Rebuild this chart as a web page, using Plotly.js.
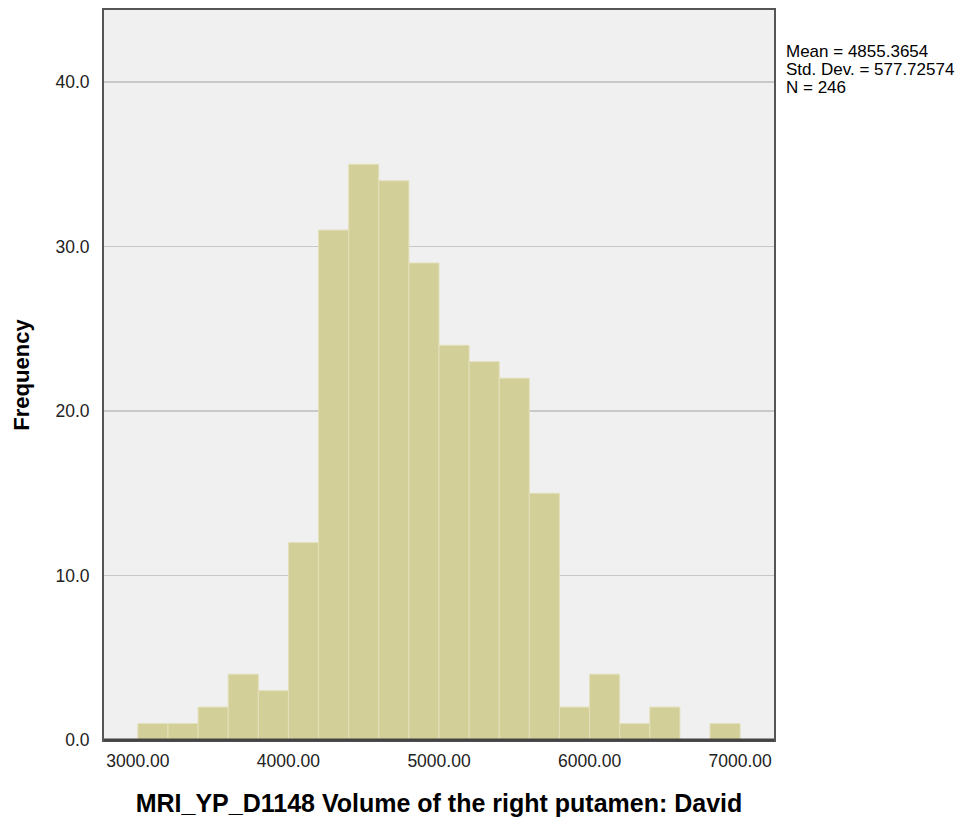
<!DOCTYPE html>
<html>
<head>
<meta charset="utf-8">
<script src="https://cdn.plot.ly/plotly-3.0.1.min.js"></script>
<style>html,body{margin:0;padding:0;background:#fff;}#chart{width:972px;height:827px;}</style>
</head>
<body>
<div id="chart"></div>
<script>
// Bin lower edges (bin width 200) and frequencies
const binLower = [3000, 3200, 3400, 3600, 3800, 4000, 4200, 4400, 4600, 4800,
                  5000, 5200, 5400, 5600, 5800, 6000, 6200, 6400, 6600, 6800];
const binWidth = 200;
const frequency = [1, 1, 2, 4, 3, 12, 31, 35, 34, 29,
                   24, 23, 22, 15, 2, 4, 1, 2, 0, 1];
const xTickVals = [3000, 4000, 5000, 6000, 7000];
const xTickText = ['3000.00', '4000.00', '5000.00', '6000.00', '7000.00'];
const yTickVals = [0, 10, 20, 30, 40];
const yTickText = ['0.0', '10.0', '20.0', '30.0', '40.0'];
const statsLines = ['Mean = 4855.3654', 'Std. Dev. = 577.72574', 'N = 246'];
const xTitle = 'MRI_YP_D1148 Volume of the right putamen: David';
const yTitle = 'Frequency';

const centers = binLower.map(v => v + binWidth / 2);

const trace = {
  type: 'bar',
  x: centers,
  y: frequency,
  width: binLower.map(() => binWidth),
  marker: {color: '#d3cf98', line: {color: '#e3e0bb', width: 1}},
  hoverinfo: 'x+y'
};

const font = 'Arial, "Liberation Sans", sans-serif';

const layout = {
  width: 972, height: 827,
  margin: {l: 104, r: 198, t: 10, b: 87},
  paper_bgcolor: '#ffffff',
  plot_bgcolor: '#f0f0f0',
  showlegend: false,
  bargap: 0,
  font: {family: font, color: '#222', size: 17},
  xaxis: {
    range: [2775, 7225],
    tickvals: xTickVals, ticktext: xTickText,
    ticks: '', showgrid: false, zeroline: false,
    showline: true, linecolor: '#555', linewidth: 2, mirror: true,
    tickfont: {size: 17.5, color: '#222'},
    ticklabelstandoff: 4,
    automargin: false,
    title: {text: xTitle, font: {size: 25, color: '#000', family: font, weight: 'bold'}, standoff: 24}
  },
  yaxis: {
    range: [0, 44.38],
    tickvals: yTickVals, ticktext: yTickText,
    ticks: '', showgrid: true, gridcolor: '#c8c8c8', gridwidth: 1.5,
    zeroline: false,
    showline: true, linecolor: '#555', linewidth: 2, mirror: true,
    tickfont: {size: 17.5, color: '#222'},
    ticklabelstandoff: 9,
    automargin: false,
    title: {text: yTitle, font: {size: 22, color: '#000', family: font, weight: 'bold'}, standoff: 20}
  },
  shapes: [{
    type: 'line', xref: 'paper', yref: 'paper', x0: 0, x1: 1, y0: 0, y1: 0,
    line: {color: '#444', width: 3}
  }],
  annotations: statsLines.map((t, i) => ({
    text: t, xref: 'paper', yref: 'paper', x: 1, y: 1,
    xanchor: 'left', yanchor: 'middle', xshift: 10, yshift: -41 - 18 * i,
    showarrow: false, font: {size: 17, color: '#000', family: font}
  }))
};

Plotly.newPlot('chart', [trace], layout, {displayModeBar: false, staticPlot: true});
</script>
</body>
</html>
